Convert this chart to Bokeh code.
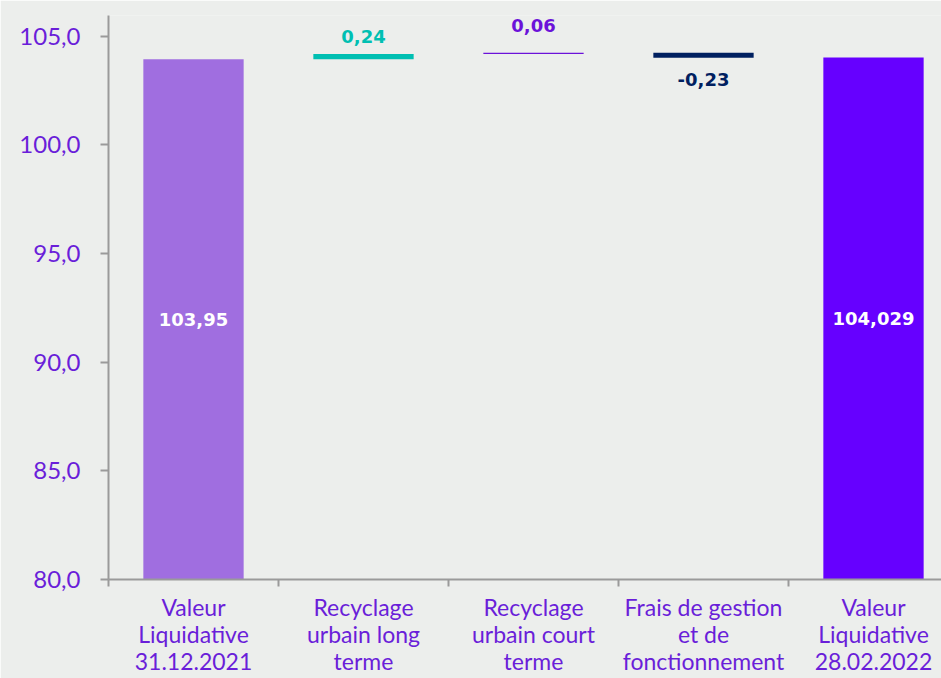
import numpy as np
from bokeh.plotting import figure
from bokeh.models import Range1d, FixedTicker
from bokeh.core.properties import value
from bokeh.embed import file_html
from bokeh.resources import INLINE

# ---------------- data ----------------
categories = [
    "Valeur\nLiquidative\n31.12.2021",
    "Recyclage\nurbain long\nterme",
    "Recyclage\nurbain court\nterme",
    "Frais de gestion\net de\nfonctionnement",
    "Valeur\nLiquidative\n28.02.2022",
]
start_value = 103.95
deltas = [0.24, 0.06, -0.23]
end_value = 104.029
start_label = "103,95"
delta_labels = ["0,24", "0,06", "-0,23"]
end_label = "104,029"
baseline = 80.0
y_ticks = [80, 85, 90, 95, 100, 105]
y_tick_labels = ["80,0", "85,0", "90,0", "95,0", "100,0", "105,0"]

# ---------------- style ----------------
BG = "#ECEEEC"
bar_colors = ["#A06EE0", "#00BFB2", "#6B12D9", "#002060", "#6600FF"]
label_purple = "#6A1ED9"
axis_grey = "#9A9A9A"
FONT = "Lato"
BFONT = "DejaVu Sans"
delta_offsets = [11, 21, 15]

xs = list(range(len(categories)))

# waterfall geometry computed from data
cum = np.concatenate([[start_value], start_value + np.cumsum(deltas)])
d_prev = cum[:-1]
d_next = cum[1:]
d_bottom = np.minimum(d_prev, d_next)
d_top = np.maximum(d_prev, d_next)

p = figure(width=941, height=678, output_backend="svg", toolbar_location=None,
           x_range=Range1d(-0.5, 4.4), y_range=Range1d(baseline, 105.96),
           min_border_left=108, min_border_right=0, min_border_top=15,
           min_border_bottom=93)
p.background_fill_color = BG
p.border_fill_color = BG
p.outline_line_color = None
p.xgrid.visible = False
p.ygrid.visible = False

W = 0.59
# total bars
p.vbar(x=[xs[0], xs[-1]], bottom=baseline, top=[start_value, end_value], width=W,
       fill_color=[bar_colors[0], bar_colors[-1]], line_color=None)
# delta bars
p.vbar(x=xs[1:4], bottom=d_bottom, top=d_top, width=W,
       fill_color=bar_colors[1:4], line_color=None)

# labels inside total bars
p.text(x=[xs[0], xs[-1]], y=[(baseline + start_value) / 2, (baseline + end_value) / 2],
       text=[start_label, end_label], text_color="white", text_font=value(BFONT),
       text_font_style="bold", text_font_size="18px", text_align="center",
       text_baseline="middle")

# delta labels
for i, (lab, dv) in enumerate(zip(delta_labels, deltas)):
    if dv >= 0:
        p.text(x=[xs[i + 1]], y=[d_top[i]], text=[lab], y_offset=-delta_offsets[i],
               text_color=bar_colors[i + 1], text_font=value(BFONT), text_font_style="bold",
               text_font_size="18px", text_align="center", text_baseline="bottom")
    else:
        p.text(x=[xs[i + 1]], y=[d_bottom[i]], text=[lab], y_offset=delta_offsets[i],
               text_color=bar_colors[i + 1], text_font=value(BFONT), text_font_style="bold",
               text_font_size="18px", text_align="center", text_baseline="top")

# y axis
ya = p.yaxis[0]
ya.ticker = FixedTicker(ticks=y_ticks, minor_ticks=[])
ya.major_label_overrides = {t: l for t, l in zip(y_ticks, y_tick_labels)}
ya.major_label_text_font = FONT
ya.major_label_text_font_size = "24px"
ya.major_label_text_color = label_purple
ya.major_label_standoff = 20
ya.axis_line_color = axis_grey
ya.axis_line_width = 2
ya.major_tick_line_color = axis_grey
ya.major_tick_line_width = 2
ya.major_tick_out = 8
ya.major_tick_in = 0

# x axis: category labels at centres, tick marks at boundaries
xa = p.xaxis[0]
bounds = [x - 0.5 for x in xs]
xa.ticker = FixedTicker(ticks=xs, minor_ticks=bounds)
xa.major_label_overrides = {x: c for x, c in zip(xs, categories)}
xa.major_label_text_font = FONT
xa.major_label_text_font_size = "23px"
xa.major_label_text_line_height = 0.98
xa.major_label_text_color = label_purple
xa.major_label_standoff = 6
xa.axis_line_color = axis_grey
xa.axis_line_width = 2
xa.major_tick_line_color = None
xa.major_tick_out = 0
xa.major_tick_in = 0
xa.minor_tick_line_color = axis_grey
xa.minor_tick_line_width = 2
xa.minor_tick_out = 7
xa.minor_tick_in = 0

html = file_html(p, INLINE)
html = html.replace("<body>", '<body style="background-color:%s;">' % BG, 1)
open("out.html", "w").write(html)
